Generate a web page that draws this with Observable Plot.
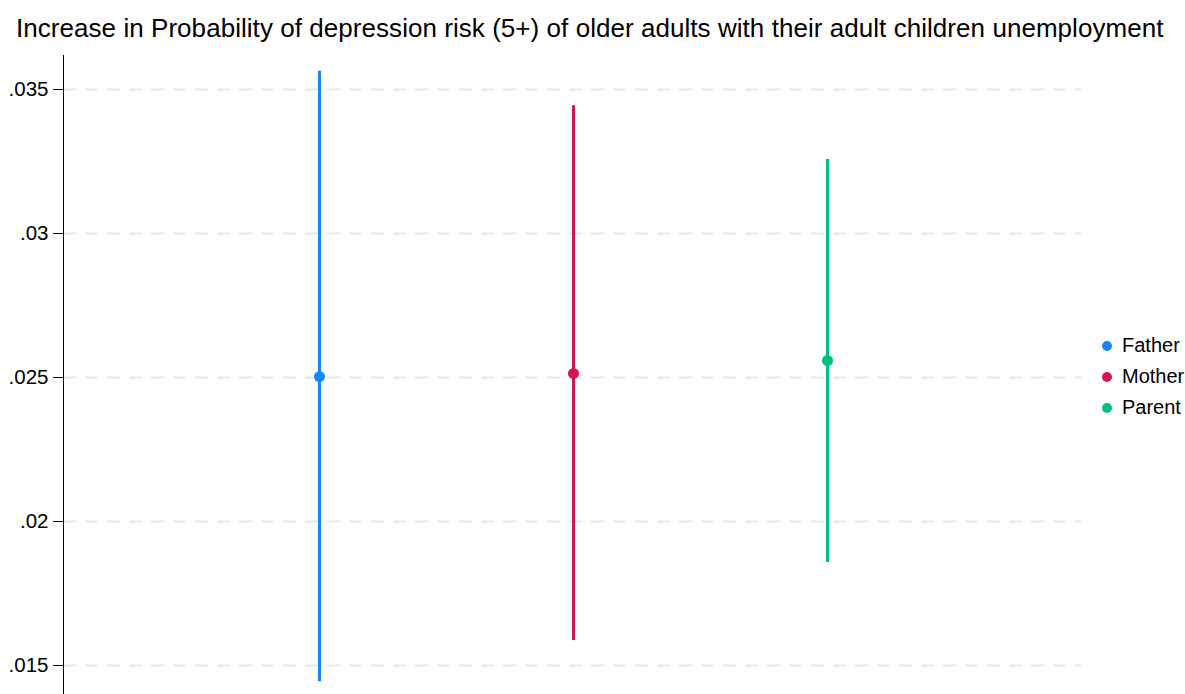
<!DOCTYPE html>
<html>
<head>
<meta charset="utf-8">
<script src="https://cdn.jsdelivr.net/npm/d3@7"></script>
<script src="https://cdn.jsdelivr.net/npm/@observablehq/plot@0.6"></script>
<style>
  body { margin: 0; background: #fff; font-family: "Liberation Sans", Arial, sans-serif; }
  #wrap { position: relative; width: 1185px; height: 694px; overflow: hidden; }
  #title { position: absolute; left: 16px; top: 15px; font-size: 26px; line-height: 26px; color: #000; white-space: nowrap; letter-spacing: 0.05px; }
  #chart { position: absolute; left: 0; top: 55px; }
  #legend { position: absolute; left: 1102px; top: 330px; font-size: 20px; color: #000; }
  .item { display: flex; align-items: center; height: 31px; }
  .sw { width: 10px; height: 10px; border-radius: 50%; margin-right: 10px; }
</style>
</head>
<body>
<div id="wrap">
  <div id="title">Increase in Probability of depression risk (5+) of older adults with their adult children unemployment</div>
  <div id="chart"></div>
  <div id="legend"></div>
</div>
<script>
// Point estimates and 95% confidence bounds by parent group
const groups = ["Father", "Mother", "Parent"];
const estimates = [0.02503, 0.02514, 0.02559];
const lower = [0.01444, 0.01587, 0.01858];
const upper = [0.03563, 0.03444, 0.03257];
const colors = ["#1a85ff", "#d51159", "#00bf7f"];
const tickValues = [0.015, 0.02, 0.025, 0.03, 0.035];
const tickLabels = [".015", ".02", ".025", ".03", ".035"];

const rows = groups.map((g, i) => ({group: g, est: estimates[i], lo: lower[i], hi: upper[i]}));
const labelOf = new Map(tickValues.map((v, i) => [v, tickLabels[i]]));

const chart = Plot.plot({
  width: 1185,
  height: 639,
  marginLeft: 63,
  marginRight: 103,
  marginTop: 0,
  marginBottom: 0,
  style: {fontFamily: "Liberation Sans, Arial, sans-serif", background: "#fff", overflow: "visible"},
  x: {type: "point", domain: groups, padding: 1, axis: null},
  y: {domain: [0.013993, 0.036181], axis: null},
  color: {domain: groups, range: colors},
  marks: [
    Plot.ruleY(tickValues, {stroke: "#e8e8e8", strokeWidth: 2, strokeDasharray: "13,9"}),
    Plot.frame({anchor: "left", stroke: "#000", strokeWidth: 1}),
    Plot.axisY(tickValues, {tickSize: 10, tickPadding: 5, fontSize: 20.5, stroke: "#000", fill: "#000",
      tickFormat: d => labelOf.get(d)}),
    Plot.ruleX(rows, {x: "group", y1: "lo", y2: "hi", stroke: "group", strokeWidth: 3}),
    Plot.dot(rows, {x: "group", y: "est", fill: "group", r: 5.5, stroke: "none"})
  ]
});
document.getElementById("chart").appendChild(chart);

const legend = document.getElementById("legend");
groups.forEach((g, i) => {
  const item = document.createElement("div");
  item.className = "item";
  const sw = document.createElement("span");
  sw.className = "sw";
  sw.style.background = colors[i];
  const tx = document.createElement("span");
  tx.textContent = g;
  item.appendChild(sw);
  item.appendChild(tx);
  legend.appendChild(item);
});
</script>
</body>
</html>
